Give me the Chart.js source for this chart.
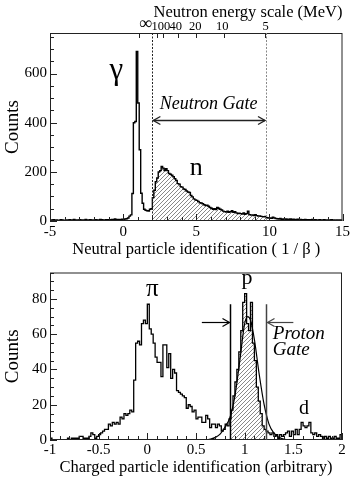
<!DOCTYPE html>
<html>
<head>
<meta charset="utf-8">
<script src="https://cdn.jsdelivr.net/npm/chart.js@4.4.1/dist/chart.umd.min.js"></script>
<style>
  body { margin: 0; background: #fff; }
  .holder { position: relative; width: 354px; height: 483px; }
  canvas { position: absolute; left: 0; display: block; }
  #top { top: 0; }
  #bottom { top: 262px; }
</style>
</head>
<body>
<div class="holder">
  <canvas id="top" width="354" height="262"></canvas>
  <canvas id="bottom" width="354" height="221"></canvas>
</div>
<script>
// neutral particles, 1/beta, bins of 0.1 starting at -5
const neutralStart = -5;
const neutralWidth = 0.1;
const neutralCounts = [
  4, 3, 5, 2, 4, 3, 3, 5, 4, 3,
  3, 4, 2, 5, 3, 4, 6, 3, 4, 3,
  5, 3, 4, 3, 6, 4, 3, 5, 4, 3,
  4, 5, 3, 4, 6, 5, 4, 3, 5, 4,
  5, 4, 6, 5, 8, 5, 6, 5, 6, 7,
  6, 8, 9, 12, 20, 25, 112, 400, 405, 690,
  480, 290, 113, 72, 48, 44, 42, 40, 48, 50,
  95, 125, 160, 175, 200, 205, 222, 215, 205, 213,
  205, 193, 190, 186, 180, 172, 165, 152, 150, 140,
  138, 130, 128, 122, 118, 116, 104, 98, 90, 86,
  84, 80, 74, 73, 70, 66, 63, 64, 60, 55,
  52, 48, 50, 47, 55, 52, 48, 45, 40, 38,
  36, 40, 35, 38, 42, 35, 38, 33, 30, 32,
  30, 28, 33, 27, 30, 40, 26, 24, 25, 22,
  26, 22, 20, 21, 19, 18, 17, 19, 13, 12,
  12, 11, 15, 12, 10, 9, 8, 10, 7, 8,
  7, 8, 6, 7, 8, 6, 7, 5, 6, 7,
  5, 6, 4, 5, 6, 4, 5, 4, 5, 6,
  4, 5, 3, 4, 5, 3, 4, 5, 3, 4,
  4, 3, 5, 3, 4, 2, 4, 3, 4, 3,
];
const neutronGate = [2.0, 9.77];
const neutralYTicks = [0, 200, 400, 600];
const neutralXTicks = [-5, 0, 5, 10, 15];

// top axis: neutron energy (MeV) against 1/beta
const energyLabels = ['∞', '100', '40', '20', '10', '5'];
const energyLabelPos = [1.52, 2.58, 3.6, 4.93, 6.77, 9.74];
const energyTickPos = [1.1, 2.32, 2.73, 3.72, 4.95, 6.88, 9.72];

// charged particles, bins of 0.02 starting at -1
const chargedStart = -1;
const chargedWidth = 0.02;
const chargedCounts = [
  1, 0, 0, 0, 0, 0, 0, 0, 0, 1,
  0, 1, 1, 1, 1, 2, 2, 1, 1, 1,
  2, 4, 3, 1, 2, 3, 4, 5, 6, 6,
  9, 8, 10, 9, 10, 9, 13, 12, 15, 14,
  15, 17, 16, 34, 55, 56, 54, 66, 68, 66,
  77, 63, 60, 55, 47, 44, 44, 36, 54, 54,
  41, 49, 35, 40, 38, 28, 27, 26, 25, 24,
  18, 20, 19, 16, 17, 12, 13, 13, 10, 10,
  14, 12, 7, 9, 9, 7, 9, 8, 5, 6,
  9, 8, 12, 17, 25, 33, 40, 50, 62, 78,
  83, 66, 62, 78, 55, 45, 30, 22, 15, 8,
  6, 5, 4, 3, 4, 2, 3, 1, 3, 2,
  3, 4, 5, 2, 5, 3, 6, 3, 6, 10,
  8, 7, 8, 10, 4, 3, 4, 2, 3, 2,
  1, 2, 1, 2, 1, 1, 2, 1, 1, 3,
];
const protonGate = [0.85, 1.215];
const chargedYTicks = [0, 20, 40, 60, 80];
const chargedXTicks = [-1, -0.5, 0, 0.5, 1, 1.5, 2];

// fitted proton peak
const fitX = [0.6, 0.65, 0.7, 0.75, 0.8, 0.85, 0.9, 0.95, 1.0, 1.03, 1.06, 1.1, 1.15, 1.2, 1.25, 1.3, 1.35, 1.4, 1.45];
const fitY = [0, 0.5, 1.5, 3.5, 7.5, 13, 25, 45, 66, 70, 68, 57, 37, 20, 9, 4, 1.5, 0.5, 0];

const serif = "'Liberation Serif', 'Times New Roman', serif";
Chart.defaults.font.family = serif;
Chart.defaults.color = '#000';

const histPoints = (start, width, counts) => {
  const pts = counts.map((c, i) => ({ x: start + i * width, y: c }));
  pts.push({ x: start + counts.length * width, y: counts[counts.length - 1] });
  return pts;
};

const gatePoints = (start, width, counts, lo, hi) => {
  const pts = [];
  counts.forEach((c, i) => {
    const a = start + i * width;
    const b = a + width;
    if (b <= lo + 1e-9 || a >= hi - 1e-9) return;
    pts.push({ x: Math.max(a, lo), y: c });
  });
  pts.push({ x: hi, y: pts[pts.length - 1].y });
  return pts;
};

const makeHatch = () => {
  const s = 4;
  const c = document.createElement('canvas');
  c.width = s;
  c.height = s;
  const g = c.getContext('2d');
  g.strokeStyle = '#555';
  g.lineWidth = 0.7;
  g.beginPath();
  g.moveTo(0, s); g.lineTo(s, 0);
  g.moveTo(-1, 1); g.lineTo(1, -1);
  g.moveTo(s - 1, s + 1); g.lineTo(s + 1, s - 1);
  g.stroke();
  return g.createPattern(c, 'repeat');
};
const hatch = makeHatch();

// frame + inward ticks, like the original plot
const frame = (t) => ({
  id: 'frame',
  afterDatasetsDraw(chart) {
    const { ctx, chartArea: a } = chart;
    const x = chart.scales.x;
    const y = chart.scales.y;
    const isMajor = (v, step) => Math.abs(v / step - Math.round(v / step)) < 1e-6;
    ctx.save();
    ctx.strokeStyle = '#222';
    ctx.lineWidth = 1;
    ctx.strokeRect(a.left + 0.5, a.top + 0.5, a.right - a.left - 1, a.bottom - a.top - 1);
    ctx.beginPath();
    for (let i = 0; ; i++) {
      const v = x.min + i * t.xMinor;
      if (v > x.max + 1e-9) break;
      const px = Math.round(x.getPixelForValue(v)) + 0.5;
      ctx.moveTo(px, a.bottom);
      ctx.lineTo(px, a.bottom - (isMajor(v, t.xMajor) ? 7 : 4));
    }
    for (let i = 0; ; i++) {
      const v = y.min + i * t.yMinor;
      if (v > y.max + 1e-9) break;
      const py = Math.round(y.getPixelForValue(v)) + 0.5;
      ctx.moveTo(a.left, py);
      ctx.lineTo(a.left + (isMajor(v, t.yMajor) ? 7 : 4), py);
    }
    (t.top || []).forEach((v) => {
      const px = Math.round(x.getPixelForValue(v)) + 0.5;
      ctx.moveTo(px, a.top);
      ctx.lineTo(px, a.top + 5);
    });
    ctx.stroke();
    ctx.restore();
  },
});

const arrowHead = (ctx, px, py, dir) => {
  ctx.beginPath();
  ctx.moveTo(px - dir * 7, py - 4);
  ctx.lineTo(px, py);
  ctx.lineTo(px - dir * 7, py + 4);
  ctx.stroke();
};

const label = (ctx, chart, text, vx, vy, font, align) => {
  ctx.font = font;
  ctx.textAlign = align || 'center';
  ctx.textBaseline = 'alphabetic';
  ctx.fillStyle = '#000';
  ctx.fillText(text, chart.scales.x.getPixelForValue(vx), chart.scales.y.getPixelForValue(vy));
};

const neutralNotes = {
  id: 'neutralNotes',
  afterDatasetsDraw(chart) {
    const { ctx, chartArea: a } = chart;
    const x = chart.scales.x;
    const y = chart.scales.y;
    ctx.save();
    ctx.lineWidth = 1;
    ctx.setLineDash([2, 1.5]);
    ctx.strokeStyle = '#222';
    let px = Math.round(x.getPixelForValue(neutronGate[0])) + 0.5;
    ctx.beginPath(); ctx.moveTo(px, a.top); ctx.lineTo(px, a.bottom); ctx.stroke();
    ctx.strokeStyle = '#888';
    px = Math.round(x.getPixelForValue(neutronGate[1])) + 0.5;
    ctx.beginPath(); ctx.moveTo(px, a.top); ctx.lineTo(px, a.bottom); ctx.stroke();
    ctx.setLineDash([]);

    const x0 = x.getPixelForValue(neutronGate[0]) + 1;
    const x1 = x.getPixelForValue(neutronGate[1]) - 1;
    const ay = Math.round(y.getPixelForValue(413)) + 0.5;
    ctx.strokeStyle = '#222';
    ctx.lineWidth = 1.4;
    ctx.beginPath(); ctx.moveTo(x0, ay); ctx.lineTo(x1, ay); ctx.stroke();
    arrowHead(ctx, x0, ay, -1);
    arrowHead(ctx, x1, ay, 1);

    label(ctx, chart, 'γ', -0.46, 579, `31px ${serif}`);
    label(ctx, chart, 'n', 5.0, 186, `26px ${serif}`);
    label(ctx, chart, 'Neutron Gate', 5.85, 457, `italic 18px ${serif}`);
    ctx.restore();
  },
};

const chargedNotes = {
  id: 'chargedNotes',
  afterDatasetsDraw(chart) {
    const { ctx } = chart;
    const x = chart.scales.x;
    const y = chart.scales.y;
    ctx.save();
    ctx.lineWidth = 1.5;
    const lineTop = y.getPixelForValue(77);
    const base = y.getPixelForValue(0);
    ctx.strokeStyle = '#000';
    let px = Math.round(x.getPixelForValue(protonGate[0])) + 0.5;
    ctx.beginPath(); ctx.moveTo(px, base); ctx.lineTo(px, lineTop); ctx.stroke();
    const ay = Math.round(y.getPixelForValue(67)) + 0.5;
    ctx.lineWidth = 1.2;
    ctx.beginPath(); ctx.moveTo(x.getPixelForValue(0.56), ay); ctx.lineTo(px - 1, ay); ctx.stroke();
    arrowHead(ctx, px - 1, ay, 1);

    ctx.strokeStyle = '#444';
    ctx.lineWidth = 1.5;
    px = Math.round(x.getPixelForValue(protonGate[1])) + 0.5;
    ctx.beginPath(); ctx.moveTo(px, base); ctx.lineTo(px, lineTop); ctx.stroke();
    ctx.lineWidth = 1.2;
    ctx.beginPath(); ctx.moveTo(x.getPixelForValue(1.5), ay); ctx.lineTo(px + 1, ay); ctx.stroke();
    arrowHead(ctx, px + 1, ay, -1);

    label(ctx, chart, 'π', 0.05, 81.4, `25px ${serif}`);
    label(ctx, chart, 'p', 1.025, 88.5, `22px ${serif}`);
    label(ctx, chart, 'd', 1.61, 14.8, `20px ${serif}`);
    label(ctx, chart, 'Proton', 1.289, 57.4, `italic 19px ${serif}`, 'left');
    label(ctx, chart, 'Gate', 1.289, 48.1, `italic 19px ${serif}`, 'left');
    ctx.restore();
  },
};

const baseOptions = (padding) => ({
  responsive: false,
  animation: false,
  events: [],
  layout: { padding },
  plugins: { legend: { display: false }, tooltip: { enabled: false } },
});

const axisTitle = (text, size, padding) => ({
  display: true,
  text,
  font: { size, lineHeight: 1 },
  padding,
});

const fixedTicks = (values) => (axis) => {
  axis.ticks = values.map((value) => ({ value }));
};

const initNeutral = () => {
  const options = baseOptions({ left: 0, right: 11, top: 0, bottom: 0 });
  options.scales = {
    x: {
      type: 'linear', min: -5, max: 15, position: 'bottom',
      grid: { display: false, drawTicks: false },
      border: { display: false },
      afterBuildTicks: fixedTicks(neutralXTicks),
      ticks: { autoSkip: false, font: { size: 15, lineHeight: 1 }, padding: 4, maxRotation: 0, callback: (v) => String(v) },
      title: axisTitle('Neutral particle identification ( 1 / β )', 16.5, { top: 0, bottom: 3.75 }),
      afterFit: (s) => { s.height = 41; },
    },
    x2: {
      type: 'linear', min: -5, max: 15, position: 'top',
      grid: { display: false, drawTicks: false },
      border: { display: false },
      afterBuildTicks: fixedTicks(energyLabelPos),
      ticks: {
        autoSkip: false, maxRotation: 0, padding: 0,
        font: (c) => ({ size: c.index === 0 ? 18 : 12.5, lineHeight: 1 }),
        callback: (value, index) => energyLabels[index],
      },
      title: { ...axisTitle('Neutron energy scale (MeV)', 16.5, { top: 4, bottom: 0 }), align: 'end' },
      afterFit: (s) => { s.height = 33; },
    },
    y: {
      min: 0, max: 765,
      grid: { display: false, drawTicks: false },
      border: { display: false },
      afterBuildTicks: fixedTicks(neutralYTicks),
      ticks: { autoSkip: false, font: { size: 15, lineHeight: 1 }, padding: 3, callback: (v) => String(v) },
      title: axisTitle('Counts', 19, { top: 4, bottom: 0 }),
      afterFit: (s) => { s.width = 50; },
    },
  };

  new Chart(document.getElementById('top'), {
    type: 'line',
    data: {
      datasets: [
        {
          data: histPoints(neutralStart, neutralWidth, neutralCounts),
          stepped: true, borderColor: '#000', borderWidth: 1.4, pointRadius: 0, fill: false,
        },
        {
          data: gatePoints(neutralStart, neutralWidth, neutralCounts, neutronGate[0], neutronGate[1]),
          stepped: true, borderWidth: 0, borderColor: 'rgba(0,0,0,0)', backgroundColor: hatch,
          pointRadius: 0, fill: 'origin',
        },
      ],
    },
    options,
    plugins: [frame({ xMinor: 1, xMajor: 5, yMinor: 50, yMajor: 200, top: energyTickPos }), neutralNotes],
  });
};

const initCharged = () => {
  const options = baseOptions({ left: 0, right: 12, top: 6, bottom: 0 });
  options.scales = {
    x: {
      type: 'linear', min: -1, max: 2, position: 'bottom',
      grid: { display: false, drawTicks: false },
      border: { display: false },
      afterBuildTicks: fixedTicks(chargedXTicks),
      ticks: { autoSkip: false, font: { size: 15, lineHeight: 1 }, padding: 3, maxRotation: 0, callback: (v) => String(v) },
      title: axisTitle('Charged particle identification (arbitrary)', 16.5, { top: 0, bottom: 6.75 }),
      afterFit: (s) => { s.height = 43; },
    },
    y: {
      min: 0, max: 95,
      grid: { display: false, drawTicks: false },
      border: { display: false },
      afterBuildTicks: fixedTicks(chargedYTicks),
      ticks: { autoSkip: false, font: { size: 15, lineHeight: 1 }, padding: 3, callback: (v) => String(v) },
      title: axisTitle('Counts', 19, { top: 4, bottom: 0 }),
      afterFit: (s) => { s.width = 50; },
    },
  };

  new Chart(document.getElementById('bottom'), {
    type: 'line',
    data: {
      datasets: [
        {
          data: histPoints(chargedStart, chargedWidth, chargedCounts),
          stepped: true, borderColor: '#000', borderWidth: 1.3, pointRadius: 0, fill: false,
        },
        {
          data: fitX.map((v, i) => ({ x: v, y: fitY[i] })),
          borderColor: '#000', borderWidth: 1.2, pointRadius: 0, fill: false,
          cubicInterpolationMode: 'monotone',
        },
        {
          data: gatePoints(chargedStart, chargedWidth, chargedCounts, protonGate[0], protonGate[1]),
          stepped: true, borderWidth: 0, borderColor: 'rgba(0,0,0,0)', backgroundColor: hatch,
          pointRadius: 0, fill: 'origin',
        },
      ],
    },
    options,
    plugins: [frame({ xMinor: 0.1, xMajor: 0.5, yMinor: 5, yMajor: 20 }), chargedNotes],
  });
};

initNeutral();
initCharged();
</script>
</body>
</html>
